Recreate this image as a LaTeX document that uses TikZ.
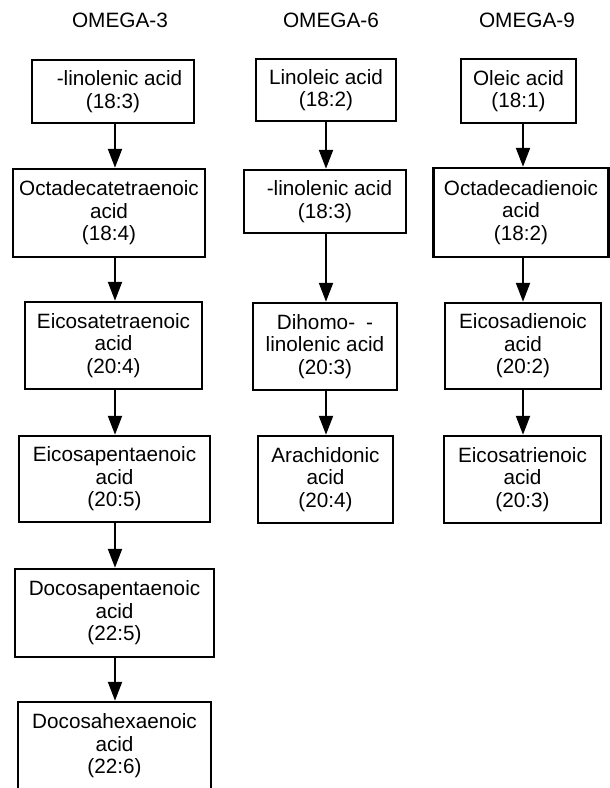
\documentclass[tikz,border=0pt]{standalone}
\usepackage{fontspec}
\setmainfont{Liberation Sans}
\usetikzlibrary{arrows.meta}

\tikzset{
  acid/.style={draw, line width=2.5pt, inner sep=0pt, align=center,
    font=\fontsize{20.7}{22.5}\selectfont},
  head/.style={anchor=base, inner sep=0pt, font=\fontsize{20.8}{24}\selectfont},
  flow/.style={line width=2.2pt, -{Triangle[length=19pt,width=14pt]}}
}

\begin{document}
\begin{tikzpicture}[x=1pt, y=-1pt]
  \clip (0,0) rectangle (610,788);
  \fill[white] (0,0) rectangle (610,788);

  % column axes for the vertical arrows
  \coordinate (x3) at (115,0);
  \coordinate (x6) at (326,0);
  \coordinate (x9) at (523,0);

  % column headings
  \node[head] (h3) at (120,27) {OMEGA-3};
  \node[head] (h6) at (331,27) {OMEGA-6};
  \node[head] (h9) at (527,27) {OMEGA-9};

  % omega-3 series
  \node[acid, minimum width=162pt, minimum height=63pt] (a1) at (113,91.5)
    {\hspace*{13pt}-linolenic acid\\(18:3)};
  \node[acid, minimum width=192pt, minimum height=88pt] (a2) at (109,213)
    {Octadecatetraenoic\\acid\\(18:4)};
  \node[acid, minimum width=177pt, minimum height=87pt] (a3) at (113.5,345.5)
    {Eicosatetraenoic\\acid\\(20:4)};
  \node[acid, minimum width=191pt, minimum height=86pt] (a4) at (114.5,479)
    {Eicosapentaenoic\\acid\\(20:5)};
  \node[acid, minimum width=199pt, minimum height=88pt] (a5) at (114.5,613)
    {Docosapentaenoic\\acid\\(22:5)};
  \node[acid, minimum width=193pt, minimum height=88pt] (a6) at (114.5,746)
    {Docosahexaenoic\\acid\\(22:6)};

  % omega-6 series
  \node[acid, minimum width=140pt, minimum height=62pt] (b1) at (326,90)
    {Linoleic acid\\(18:2)};
  \node[acid, minimum width=162pt, minimum height=63pt] (b2) at (325,201.5)
    {\hspace*{9pt}-linolenic acid\\(18:3)};
  \node[acid, minimum width=144pt, minimum height=87pt] (b3) at (325,346.5)
    {Dihomo-\hspace*{11pt}-\\linolenic acid\\(20:3)};
  \node[acid, minimum width=135pt, minimum height=87pt] (b4) at (325.5,479.5)
    {Arachidonic\\acid\\(20:4)};

  % omega-9 series
  \node[acid, minimum width=115pt, minimum height=64pt] (n1) at (518.5,91)
    {Oleic acid\\(18:1)};
  \node[acid, minimum width=175pt, minimum height=89pt] (n2) at (521,212.5)
    {Octadecadienoic\\acid\\(18:2)};
  \node[acid, minimum width=156pt, minimum height=86pt] (n3) at (523,346)
    {Eicosadienoic\\acid\\(20:2)};
  \node[acid, minimum width=157pt, minimum height=87pt] (n4) at (522.5,479.5)
    {Eicosatrienoic\\acid\\(20:3)};

  % conversion steps
  \foreach \p/\q in {a1/a2, a2/a3, a3/a4, a4/a5, a5/a6}
    \draw[flow] (\p.south -| x3) -- (\q.north -| x3);
  \foreach \p/\q in {b1/b2, b2/b3, b3/b4}
    \draw[flow] (\p.south -| x6) -- (\q.north -| x6);
  \foreach \p/\q in {n1/n2, n2/n3, n3/n4}
    \draw[flow] (\p.south -| x9) -- (\q.north -| x9);
\end{tikzpicture}
\end{document}
